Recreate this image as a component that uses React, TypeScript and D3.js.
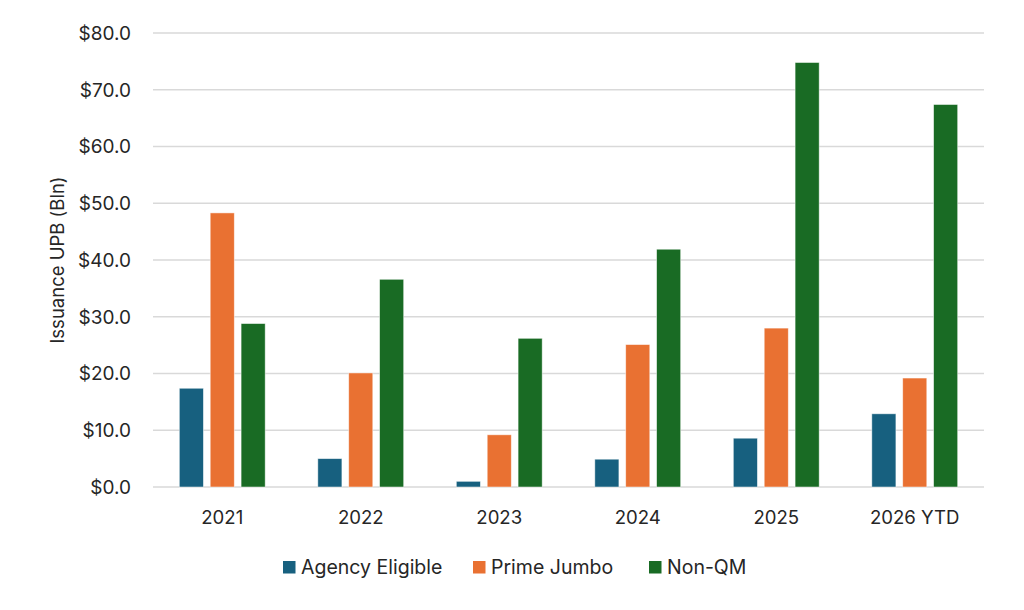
import React, { useEffect, useRef } from "react"
import * as d3 from "d3"

const categories = ["2021", "2022", "2023", "2024", "2025", "2026 YTD"]
const seriesNames = ["Agency Eligible", "Prime Jumbo", "Non-QM"]
const agencyEligible = [17.4, 5.0, 1.0, 4.9, 8.6, 12.9]
const primeJumbo = [48.3, 20.1, 9.2, 25.1, 28.0, 19.2]
const nonQM = [28.8, 36.6, 26.2, 41.9, 74.8, 67.4]
const yTicks = [0, 10, 20, 30, 40, 50, 60, 70, 80]
const colors = ["#17607f", "#e97132", "#196b24"]

const width = 1024
const height = 610
const margin = { top: 33, right: 40, bottom: 123, left: 153 }
const font = "Inter, 'Open Sans', sans-serif"

function App() {
    const ref = useRef<SVGSVGElement>(null)

    useEffect(() => {
        document.body.style.margin = "0"
        const svg = d3.select(ref.current)
        svg.selectAll("*").remove()

        const series = [agencyEligible, primeJumbo, nonQM]
        const x = d3.scaleBand().domain(categories).range([margin.left, width - margin.right]).paddingInner(0.38).paddingOuter(0.19)
        const xSub = d3.scaleBand().domain(seriesNames).range([0, x.bandwidth()]).paddingInner(0.22)
        const y = d3.scaleLinear().domain([0, 80]).range([height - margin.bottom, margin.top])

        // gridlines
        svg.append("g")
            .selectAll("line")
            .data(yTicks)
            .join("line")
            .attr("x1", margin.left)
            .attr("x2", width - margin.right)
            .attr("y1", (d) => y(d))
            .attr("y2", (d) => y(d))
            .attr("stroke", "#d9d9d9")
            .attr("stroke-width", 1.3)

        // y labels
        svg.append("g")
            .selectAll("text")
            .data(yTicks)
            .join("text")
            .attr("x", margin.left - 22)
            .attr("y", (d) => y(d))
            .attr("dy", "0.36em")
            .attr("text-anchor", "end")
            .attr("font-family", font)
            .attr("font-size", 19)
            .attr("fill", "#262626")
            .text((d) => "$" + d.toFixed(1))

        // y title
        svg.append("text")
            .attr("transform", `translate(64,${(margin.top + height - margin.bottom) / 2}) rotate(-90)`)
            .attr("text-anchor", "middle")
            .attr("font-family", font)
            .attr("font-size", 18.5)
            .attr("fill", "#262626")
            .text("Issuance UPB (Bln)")

        // bars
        const groups = svg.append("g")
            .selectAll("g")
            .data(categories)
            .join("g")
            .attr("transform", (d) => `translate(${x(d)},0)`)

        groups.selectAll("rect")
            .data((_, i) => seriesNames.map((name, s) => ({ name, value: series[s][i], s })))
            .join("rect")
            .attr("x", (d) => xSub(d.name) as number)
            .attr("width", xSub.bandwidth())
            .attr("y", (d) => y(d.value))
            .attr("height", (d) => y(0) - y(d.value))
            .attr("fill", (d) => colors[d.s])
            .attr("stroke", "#ffffff")
            .attr("stroke-opacity", 0.6)
            .attr("stroke-width", 0.8)

        // x labels
        svg.append("g")
            .selectAll("text")
            .data(categories)
            .join("text")
            .attr("x", (d) => (x(d) as number) + x.bandwidth() / 2)
            .attr("y", height - margin.bottom + 37)
            .attr("text-anchor", "middle")
            .attr("font-family", font)
            .attr("font-size", 18.6)
            .attr("fill", "#262626")
            .text((d) => d)

        // legend
        const legendX = [283, 473, 649]
        const legend = svg.append("g")
            .selectAll("g")
            .data(seriesNames)
            .join("g")
            .attr("transform", (_, i) => `translate(${legendX[i]},567)`)
        legend.append("rect")
            .attr("x", 0)
            .attr("y", -6)
            .attr("width", 12.5)
            .attr("height", 12.5)
            .attr("fill", (_, i) => colors[i])
        legend.append("text")
            .attr("x", 18)
            .attr("dy", "0.36em")
            .attr("font-family", font)
            .attr("font-size", 19.5)
            .attr("fill", "#262626")
            .text((d) => d)
    }, [])

    return <svg ref={ref} width={width} height={height} style={{ display: "block", background: "#fff" }}></svg>
}

export default App
